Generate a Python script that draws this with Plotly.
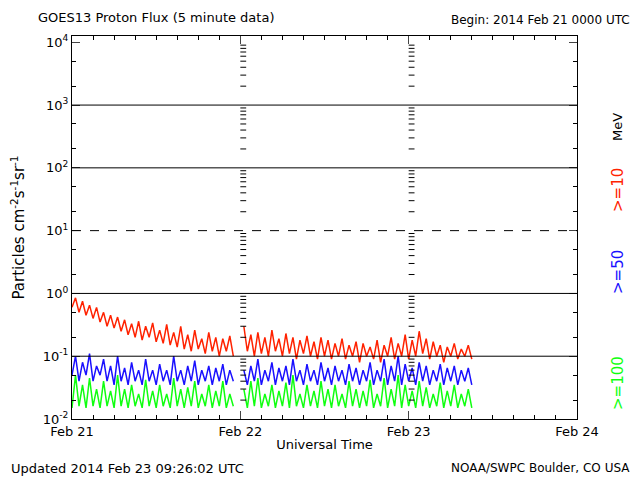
import datetime as dt
import plotly.graph_objects as go

# flux samples, every 30 minutes from 2014-02-21 00:00 (None = data gap)
p10 = [0.6, 0.85, 0.5, 0.75, 0.45, 0.65, 0.4, 0.6, 0.35, 0.5, 0.3, 0.45, 0.28, 0.42, 0.25, 0.38,
       0.22, 0.33, 0.2, 0.36, 0.18, 0.3, 0.2, 0.34, 0.17, 0.26, 0.16, 0.32, 0.15, 0.24, 0.14, 0.3,
       0.13, 0.22, 0.12, 0.26, 0.13, 0.19, 0.11, 0.24, 0.12, 0.2, 0.1, 0.19, 0.12, 0.21, 0.1, None,
       None, 0.3, 0.12, 0.22, 0.1, 0.24, 0.11, 0.2, 0.1, 0.26, 0.12, 0.19, 0.1, 0.23, 0.11, 0.2,
       0.09, 0.18, 0.11, 0.21, 0.1, 0.17, 0.09, 0.2, 0.1, 0.18, 0.09, 0.16, 0.1, 0.19, 0.09, 0.15,
       0.1, 0.17, 0.08, 0.16, 0.1, 0.14, 0.09, 0.18, 0.08, 0.15, 0.1, 0.2, 0.09, 0.16, 0.1, 0.22,
       0.09, 0.18, 0.1, 0.25, 0.11, 0.19, 0.09, 0.17, 0.1, 0.15, 0.08, 0.14, 0.1, 0.16, 0.09, 0.13,
       0.1, 0.15, 0.09]
p50 = [0.05, 0.1, 0.04, 0.08, 0.05, 0.11, 0.04, 0.07, 0.05, 0.09, 0.04, 0.07, 0.035, 0.1, 0.04, 0.065,
       0.035, 0.08, 0.04, 0.06, 0.035, 0.09, 0.04, 0.06, 0.035, 0.075, 0.04, 0.06, 0.035, 0.1, 0.04, 0.06,
       0.035, 0.07, 0.04, 0.085, 0.035, 0.06, 0.04, 0.07, 0.035, 0.065, 0.04, 0.075, 0.035, 0.06, 0.04, None,
       None, 0.06, 0.035, 0.07, 0.04, 0.09, 0.035, 0.06, 0.04, 0.08, 0.035, 0.065, 0.04, 0.07, 0.035, 0.09,
       0.04, 0.06, 0.035, 0.075, 0.04, 0.06, 0.035, 0.08, 0.04, 0.065, 0.035, 0.07, 0.04, 0.06, 0.035, 0.075,
       0.04, 0.065, 0.035, 0.06, 0.04, 0.08, 0.035, 0.06, 0.04, 0.09, 0.035, 0.07, 0.04, 0.1, 0.035, 0.075,
       0.04, 0.065, 0.035, 0.08, 0.04, 0.07, 0.035, 0.06, 0.04, 0.075, 0.035, 0.065, 0.04, 0.07, 0.035, 0.06,
       0.04, 0.065, 0.035]
p100 = [0.015, 0.05, 0.016, 0.035, 0.015, 0.045, 0.016, 0.03, 0.015, 0.04, 0.016, 0.028, 0.015, 0.05, 0.016, 0.03,
        0.015, 0.035, 0.016, 0.025, 0.015, 0.042, 0.016, 0.028, 0.015, 0.035, 0.016, 0.025, 0.015, 0.045, 0.016, 0.03,
        0.015, 0.032, 0.016, 0.04, 0.015, 0.025, 0.016, 0.035, 0.015, 0.028, 0.016, 0.04, 0.015, 0.025, 0.016, None,
        None, 0.03, 0.015, 0.04, 0.016, 0.045, 0.015, 0.025, 0.016, 0.035, 0.015, 0.028, 0.016, 0.038, 0.015, 0.05,
        0.016, 0.025, 0.015, 0.035, 0.016, 0.028, 0.015, 0.04, 0.016, 0.03, 0.015, 0.035, 0.016, 0.025, 0.015, 0.04,
        0.016, 0.03, 0.015, 0.028, 0.016, 0.042, 0.015, 0.025, 0.016, 0.045, 0.015, 0.03, 0.016, 0.05, 0.015, 0.035,
        0.016, 0.028, 0.015, 0.04, 0.016, 0.032, 0.015, 0.025, 0.016, 0.038, 0.015, 0.028, 0.016, 0.035, 0.015, 0.025,
        0.016, 0.03, 0.015]

start = dt.datetime(2014, 2, 21)
times = [start + dt.timedelta(minutes=30 * i) for i in range(len(p10))]

decades = [-2, -1, 0, 1, 2, 3, 4]
day_ticks = ["2014-02-21", "2014-02-22", "2014-02-23", "2014-02-24"]
day_labels = ["Feb 21", "Feb 22", "Feb 23", "Feb 24"]

FONT = "DejaVu Sans"
fig = go.Figure()
for ys, c in [(p10, "#ff2200"), (p50, "#1a10ff"), (p100, "#10ff10")]:
    fig.add_trace(go.Scatter(x=times, y=ys, mode="lines", line=dict(color=c, width=1.5),
                             connectgaps=False, showlegend=False))

# gridlines: solid except dashed 10^1
for d in [-1, 0, 2, 3]:
    fig.add_shape(type="line", xref="paper", x0=0, x1=1, y0=10**d, y1=10**d,
                  line=dict(color="black", width=1))
fig.add_shape(type="line", xref="paper", x0=0, x1=1, y0=10, y1=10,
              line=dict(color="black", width=1, dash="dash"))

# minor log ticks alongside the day lines
for day in ["2014-02-22", "2014-02-23"]:
    x0 = dt.datetime.fromisoformat(day)
    for d in decades[:-1]:
        for m in range(2, 10):
            fig.add_shape(type="line", x0=x0, x1=x0 + dt.timedelta(minutes=50),
                          y0=m * 10**d, y1=m * 10**d, line=dict(color="black", width=1))

fig.update_xaxes(type="date", range=["2014-02-21", "2014-02-24"], tickvals=day_ticks,
                 ticktext=day_labels, ticks="inside", ticklen=8, mirror="ticks",
                 showline=True, linecolor="black", linewidth=1, showgrid=False, automargin=False,
                 minor=dict(dtick=3 * 3600 * 1000, ticks="inside", ticklen=4, tickcolor="black"),
                 title=dict(text="Universal Time", standoff=2, font=dict(size=13)),
                 tickfont=dict(size=13))
fig.update_yaxes(type="log", range=[-2, 4.1], tickvals=[10**d for d in decades],
                 ticktext=["10<sup>%d</sup>" % d for d in decades], ticks="inside", ticklen=8,
                 mirror="ticks", showline=True, linecolor="black", linewidth=1, showgrid=False,
                 automargin=False,
                 minor=dict(ticks="inside", ticklen=4, tickcolor="black"),
                 title=dict(text="Particles cm<sup>-2</sup>s<sup>-1</sup>sr<sup>-1</sup>",
                            standoff=14, font=dict(size=15)),
                 tickfont=dict(size=13))

# window pixel positions of the surrounding texts
ann = [
    (36, 18, "GOES13 Proton Flux (5 minute data)", "left", 13, "black", 0),
    (632, 20, "Begin: 2014 Feb 21 0000 UTC", "right", 12, "black", 0),
    (9, 468, "Updated 2014 Feb 23 09:26:02 UTC", "left", 13, "black", 0),
    (632, 468, "NOAA/SWPC Boulder, CO USA", "right", 12, "black", 0),
    (618, 127, "MeV", "center", 13, "black", -90),
    (618, 190, ">=10", "center", 15, "#ff2200", -90),
    (618, 272, ">=50", "center", 15, "#1a10ff", -90),
    (618, 383, ">=100", "center", 15, "#10ff10", -90),
]
# the page body has an 8px margin, so figure pixels = window pixels - 8
OFF = 8
W, H = 632, 472
L, R, T, B = 72 - OFF, W - (577 - OFF), 36 - OFF, H - (419 - OFF)
for px, py, t, al, sz, col, ang in ann:
    fx, fy = px - OFF, py - OFF
    fig.add_annotation(xref="paper", yref="paper",
                       x=(fx - L) / (W - L - R), y=((H - fy) - B) / (H - T - B),
                       text=t, showarrow=False,
                       xanchor=al if ang == 0 else "center", yanchor="middle",
                       textangle=ang, font=dict(size=sz, color=col, family=FONT))

fig.update_layout(width=W, height=H, margin=dict(l=L, r=R, t=T, b=B),
                  plot_bgcolor="white", paper_bgcolor="white",
                  font=dict(family=FONT, color="black"))
fig.write_html("out.html")
